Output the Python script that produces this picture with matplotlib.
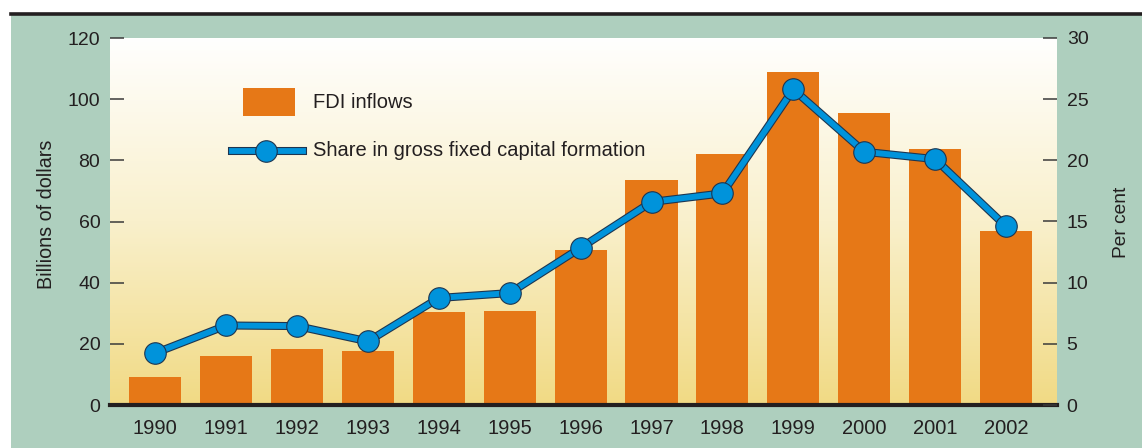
import matplotlib
matplotlib.use("Agg")
import matplotlib.pyplot as plt
import numpy as np
from matplotlib.patches import Rectangle
from matplotlib.lines import Line2D
import matplotlib.patheffects as pe
from matplotlib.colors import LinearSegmentedColormap

plt.rcParams['font.family'] = ['Liberation Sans', 'DejaVu Sans']

years = ['1990', '1991', '1992', '1993', '1994', '1995', '1996',
         '1997', '1998', '1999', '2000', '2001', '2002']
fdi_inflows = [9.2, 16.0, 18.3, 17.7, 30.4, 30.7, 50.7, 73.6, 82.1, 108.9, 95.5, 83.7, 57.0]
share_gfcf = [4.25, 6.5, 6.45, 5.2, 8.75, 9.15, 12.85, 16.6, 17.3, 25.8, 20.7, 20.1, 14.6]
left_ticks = [0, 20, 40, 60, 80, 100, 120]
right_ticks = [0, 5, 10, 15, 20, 25, 30]

W, H = 1142, 448
green = '#aecfbe'
bar_c = '#e67817'
line_c = '#0093db'
text_c = '#231f20'
edge_c = '#1d3550'

fig = plt.figure(figsize=(W / 100, H / 100), dpi=100)
fig.patch.set_facecolor(green)

# white margins (top strip and left strip) and top black rule
fig.add_artist(Rectangle((0, (H - 13) / H), 1, 13 / H, transform=fig.transFigure,
                         facecolor='white', edgecolor='none', zorder=-5))
fig.add_artist(Rectangle((0, 0), 11 / W, 1, transform=fig.transFigure,
                         facecolor='white', edgecolor='none', zorder=-5))
fig.add_artist(Line2D([11 / W, 1], [(H - 14.5) / H, (H - 14.5) / H],
                      transform=fig.transFigure, color=text_c, lw=2.6, zorder=-4))

left, right = 110 / W, 1057 / W
bottom, top = (H - 405) / H, (H - 38) / H
ax = fig.add_axes([left, bottom, right - left, top - bottom])
ax.set_zorder(1)
ax2 = ax.twinx()
ax2.set_zorder(2)
ax2.patch.set_visible(False)

x = np.arange(len(years))
xlim = (-0.64, len(years) - 1 + 0.72)

# gradient background
cmap = LinearSegmentedColormap.from_list('g', ['#fffffe', '#f9f0cc', '#f1da84'])
grad = np.linspace(0, 1, 256).reshape(-1, 1)
ax.imshow(grad, aspect='auto', cmap=cmap, extent=(xlim[0], xlim[1], 0, 120),
          zorder=0, origin='upper')

ax.bar(x, fdi_inflows, width=0.735, color=bar_c, zorder=2)
ax.set_xlim(*xlim)
ax.set_ylim(0, 120)
ax2.set_ylim(0, 30)

LW, SW, MS = 4.2, 5.8, 15.5
ax2.plot(x, share_gfcf, color=line_c, lw=LW, solid_joinstyle='round', zorder=3,
         path_effects=[pe.Stroke(linewidth=SW, foreground=edge_c), pe.Normal()])
ax2.plot(x, share_gfcf, linestyle='none', marker='o', markersize=MS,
         markerfacecolor=line_c, markeredgecolor=edge_c, markeredgewidth=0.8, zorder=4)

for a in (ax, ax2):
    for s in ['top', 'left', 'right', 'bottom']:
        a.spines[s].set_visible(False)
ax.spines['bottom'].set_visible(True)
ax.spines['bottom'].set_linewidth(3)
ax.spines['bottom'].set_color(text_c)
ax.spines['bottom'].set_zorder(5)

ax.set_yticks(left_ticks)
ax.set_yticklabels([str(t) for t in left_ticks])
ax2.set_yticks(right_ticks)
ax2.set_yticklabels([str(t) for t in right_ticks])
ax.set_xticks(x)
ax.set_xticklabels(years)

ax.tick_params(axis='y', direction='in', length=10, width=1.1, color='#3a3a3a',
               pad=7, labelsize=14, labelcolor=text_c)
ax2.tick_params(axis='y', direction='in', length=10, width=1.1, color='#3a3a3a',
                pad=7, labelsize=14, labelcolor=text_c)
ax.tick_params(axis='x', length=0, pad=10, labelsize=14.5, labelcolor=text_c)

fig.text(47 / W, 1 - 214 / H, 'Billions of dollars', rotation=90, ha='center',
         va='center', fontsize=14.2, color=text_c)
fig.text(1122 / W, 1 - 222 / H, 'Per cent', rotation=90, ha='center',
         va='center', fontsize=13.8, color=text_c)

# legend (manual)
T = ax.transAxes
def fx(px):
    return (px - 110) / (1057 - 110)
def fy(py):
    return (405 - py) / (405 - 38)
ax2.add_patch(Rectangle((fx(243), fy(116)), fx(295) - fx(243), fy(88) - fy(116),
                        transform=T, facecolor=bar_c, edgecolor='none', zorder=4))
ax2.text(fx(313), fy(103), 'FDI inflows', transform=T, ha='left', va='center',
         fontsize=14.5, color=text_c)
lg = Line2D([fx(232), fx(303)], [fy(151), fy(151)], transform=T, color=line_c, lw=LW,
            path_effects=[pe.Stroke(linewidth=SW, foreground=edge_c), pe.Normal()])
ax2.add_line(lg)
ax2.add_line(Line2D([fx(266)], [fy(151)], transform=T, marker='o', markersize=MS,
                    markerfacecolor=line_c, markeredgecolor=edge_c,
                    markeredgewidth=0.8, linestyle='none'))
ax2.text(fx(313), fy(151), 'Share in gross fixed capital formation', transform=T,
         ha='left', va='center', fontsize=14.5, color=text_c)

fig.savefig('out.png', dpi=100, facecolor=green)
